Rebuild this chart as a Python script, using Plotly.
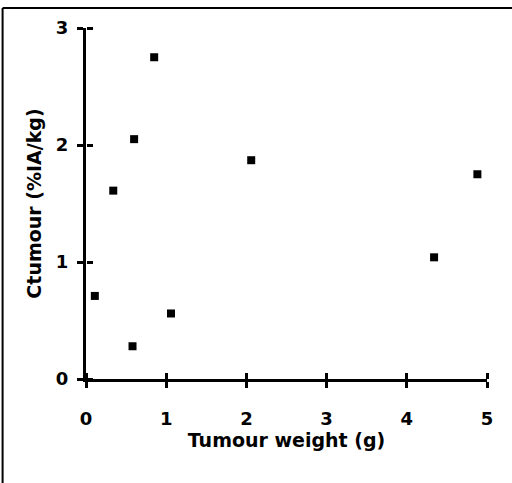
import plotly.graph_objects as go

tumour_weight = [0.11, 0.34, 0.58, 0.60, 0.85, 1.06, 2.06, 4.34, 4.88]
c_tumour = [0.71, 1.61, 0.28, 2.05, 2.75, 0.56, 1.87, 1.04, 1.75]
x_ticks = [0, 1, 2, 3, 4, 5]
y_ticks = [0, 1, 2, 3]

FONT = "DejaVu Sans"

fig = go.Figure()
fig.add_trace(go.Scatter(
    x=tumour_weight, y=c_tumour, mode="markers",
    marker=dict(symbol="square", size=8, color="black", line=dict(width=0)),
    showlegend=False, cliponaxis=False,
))
# invisible trace to activate overlay axes for inner half of cross ticks
fig.add_trace(go.Scatter(x=[0, 5], y=[0, 3], xaxis="x2", yaxis="y2", mode="markers",
                         marker=dict(opacity=0), showlegend=False, hoverinfo="skip"))

axis_common = dict(type="linear", showgrid=False, zeroline=False, ticks="outside", ticklen=6,
                   tickwidth=2.5, tickcolor="black", showline=True, linewidth=3,
                   linecolor="black")
inner_common = dict(type="linear", showticklabels=False, showgrid=False, zeroline=False,
                    ticks="outside", ticklen=6, tickwidth=2.5, tickcolor="black",
                    showline=False, anchor="free", position=0)

fig.update_layout(
    width=512, height=483,
    margin=dict(l=86, r=25, t=28, b=104),
    paper_bgcolor="white", plot_bgcolor="white",
    font=dict(family=FONT, color="black", size=18, weight="bold"),
    xaxis=dict(range=[0, 5], tickvals=x_ticks, ticktext=[str(v) for v in x_ticks],
               ticklabelstandoff=15,
               title=dict(text="Tumour weight (g)", standoff=4,
                          font=dict(family=FONT, size=19, weight="bold")),
               **axis_common),
    yaxis=dict(range=[0, 3], tickvals=y_ticks, ticktext=[str(v) for v in y_ticks],
               ticklabelstandoff=5,
               title=dict(text="Ctumour (%IA/kg)", standoff=10,
                          font=dict(family=FONT, size=19, weight="bold")),
               **axis_common),
    xaxis2=dict(range=[0, 5], tickvals=x_ticks, overlaying="x", side="top",
                **inner_common),
    yaxis2=dict(range=[0, 3], tickvals=y_ticks, overlaying="y", side="right",
                **inner_common),
)

# outer frame (left and top edges visible in the reference)
fig.add_shape(type="line", xref="paper", yref="paper", x0=-0.208, x1=-0.208, y0=-0.4, y1=1.057,
              line=dict(color="black", width=2))
fig.add_shape(type="line", xref="paper", yref="paper", x0=-0.208, x1=1.2, y0=1.057, y1=1.057,
              line=dict(color="black", width=2))

fig.write_html("out.html", config={"displayModeBar": False},
               post_script="document.body.style.margin='0';")
